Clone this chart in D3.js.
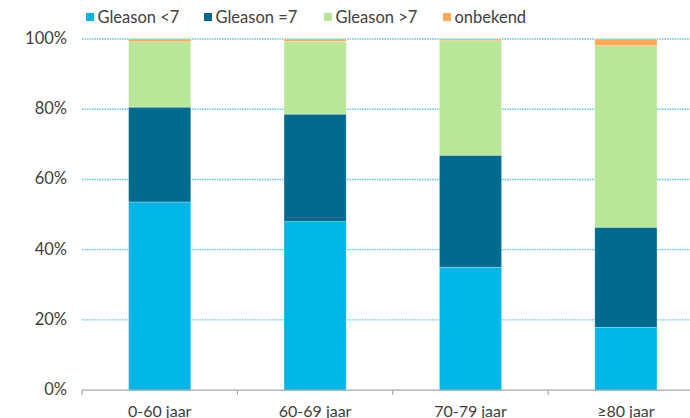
<!DOCTYPE html>
<html><head><meta charset="utf-8">
<script src="https://cdn.jsdelivr.net/npm/d3@7"></script>
<style>body{margin:0;background:#fff}svg{display:block}text{font-family:Lato,"Open Sans",sans-serif}</style>
</head><body><svg id="c" width="690" height="418"></svg>
<script>
const categories = ["0-60 jaar", "60-69 jaar", "70-79 jaar", "\u226580 jaar"];
const seriesNames = ["Gleason <7", "Gleason =7", "Gleason >7", "onbekend"];
const gleasonLt7 = [53.6, 48.0, 35.0, 17.9];
const gleasonEq7 = [27.0, 30.6, 31.9, 28.5];
const gleasonGt7 = [18.6, 20.7, 32.6, 51.7];
const onbekend = [0.8, 0.7, 0.5, 1.9];
const yTicks = [0, 20, 40, 60, 80, 100];
const colors = ["#00b6e9", "#006b8e", "#b9e799", "#ffa955"];

(function () {
const svg = d3.select("#c");
const plotLeft = 82, bandW = 155.4, plotTop = 39, plotBottom = 390.2;
const x = d3.scaleBand().domain(categories).range([plotLeft, plotLeft + bandW * categories.length]).paddingInner(0.6).paddingOuter(0.3);
const y = d3.scaleLinear().domain([0, 100]).range([plotBottom, plotTop]);

const rows = categories.map((c, i) => ({cat: c, s0: gleasonLt7[i], s1: gleasonEq7[i], s2: gleasonGt7[i], s3: onbekend[i]}));
const stack = d3.stack().keys(["s0", "s1", "s2", "s3"])(rows);

// grid
svg.append("g").selectAll("line").data(yTicks.filter(t => t > 0)).join("line")
  .attr("x1", plotLeft).attr("x2", 690).attr("y1", d => y(d)).attr("y2", d => y(d))
  .attr("stroke", "#5cc7e6").attr("stroke-width", 1.3).attr("stroke-dasharray", "1.5,1");

// y labels
svg.append("g").selectAll("text").data(yTicks).join("text")
  .attr("x", 67).attr("y", d => y(d) + 4.8).attr("text-anchor", "end")
  .attr("font-size", 16.5).attr("fill", "#404040").text(d => d + "%");

// bars
svg.append("g").selectAll("g").data(stack).join("g").attr("fill", (d, i) => colors[i])
  .selectAll("rect").data(d => d).join("rect")
  .attr("x", d => x(d.data.cat)).attr("width", x.bandwidth())
  .attr("y", d => y(d[1])).attr("height", d => y(d[0]) - y(d[1]))
  .attr("stroke", "#ffffff").attr("stroke-opacity", 0.35).attr("stroke-width", 0.8);

// x axis
const xa = svg.append("g");
xa.append("line").attr("x1", plotLeft).attr("x2", 690).attr("y1", plotBottom).attr("y2", plotBottom).attr("stroke", "#a6a6a6").attr("stroke-width", 1.2);
xa.selectAll("line.t").data(d3.range(categories.length)).join("line").attr("class", "t")
  .attr("x1", i => plotLeft + bandW * i).attr("x2", i => plotLeft + bandW * i)
  .attr("y1", plotBottom).attr("y2", plotBottom + 4.5).attr("stroke", "#a6a6a6").attr("stroke-width", 1.2);
xa.selectAll("text").data(categories).join("text")
  .attr("x", d => x(d) + x.bandwidth() / 2).attr("y", 416.5).attr("text-anchor", "middle")
  .attr("font-size", 16).attr("fill", "#404040").text(d => d);

// legend
const legX = [86, 204, 324, 443];
const lg = svg.append("g").selectAll("g").data(seriesNames).join("g")
  .attr("transform", (d, i) => `translate(${legX[i]},0)`);
lg.append("rect").attr("x", 0).attr("y", 13).attr("width", 8).attr("height", 8).attr("fill", (d, i) => colors[i]);
lg.append("text").attr("x", 11.5).attr("y", 22.5).attr("font-size", 16.5).attr("fill", "#404040").text(d => d);
})();
</script></body></html>
